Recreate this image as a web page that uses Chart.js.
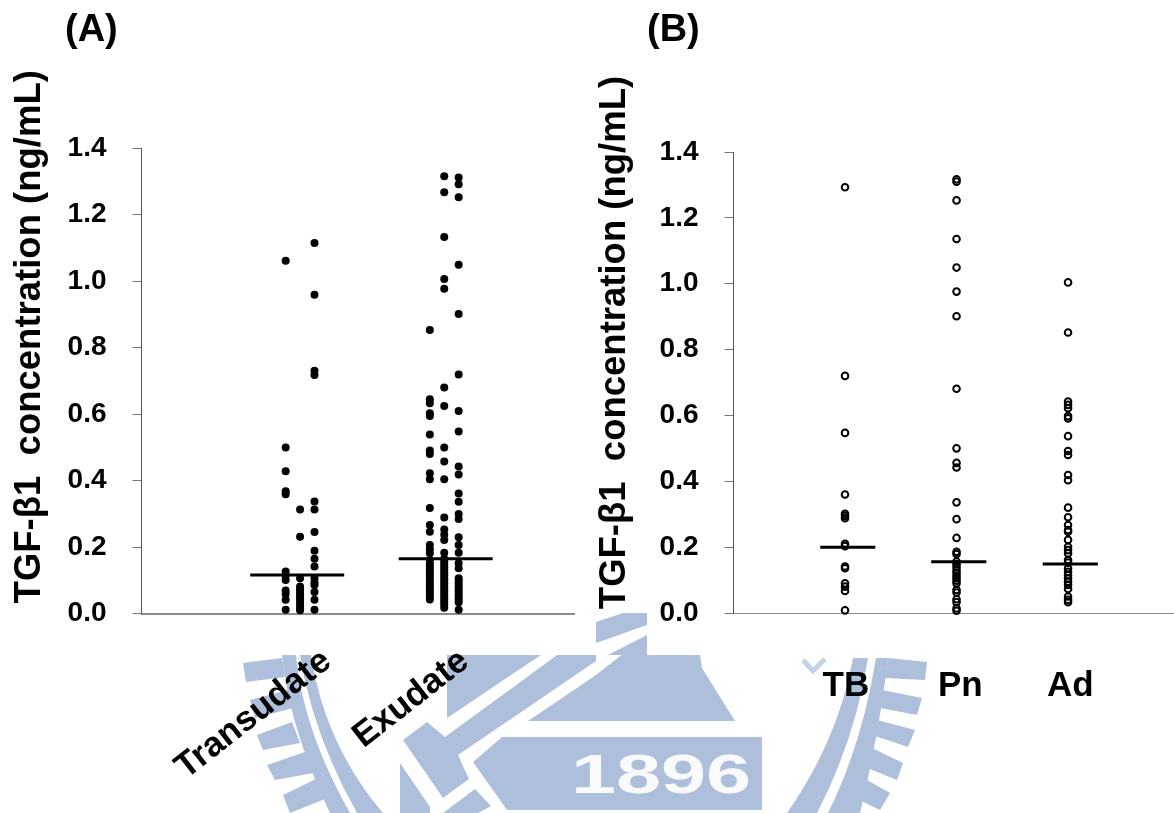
<!DOCTYPE html>
<html>
<head>
<meta charset="utf-8">
<script src="https://cdn.jsdelivr.net/npm/chart.js@4"></script>
<style>
html,body{margin:0;padding:0;background:#fff;width:1174px;height:813px;overflow:hidden}
canvas,svg,.tag{position:absolute}
.tag{font:bold 38px "Liberation Sans",Arial,sans-serif;color:#000;line-height:1}
</style>
</head>
<body>
<svg width="1174" height="813" style="left:0;top:0" fill="#aebfdc" stroke="none">
  <!-- faint seal watermark behind the charts -->
  <polygon points="596,622 623,613 647,613 647,625 596,661"/>
  <polygon points="596,661 647,627 647,655 596,655" fill="#aebfdc"/>
  <polygon points="596,643 647,625 647,635 596,661" fill="#fff"/>
  <polygon points="447,655 541,655 447,718"/>
  <polygon points="403,740 427,722 445,737 557,655 596,655 596,661 458,755 469,779 443,798"/>
  <polygon points="400,763 430,807 430,813 400,813"/>
  <polygon points="443,813 475,789 491,806 478,813"/>
  <polygon points="528,721 596,675 647,635 647,655 700,655 702,668 735,721"/>
  <polygon points="473,762 502,737 762,737 762,810 507,810"/>
  <text x="571" y="793" fill="#fff" font-family="Liberation Sans" font-weight="bold" font-size="56" textLength="180" lengthAdjust="spacingAndGlyphs" opacity="0.93">1896</text>
  <path d="M282,655 L296,655 Q303,730 350,813 L330,813 Q290,730 282,655Z"/>
  <path d="M300,655 L311,655 Q325,745 383,813 L357,813 Q313,735 300,655Z"/>
  <polygon points="243,663 282,658 285,677 246,682"/>
  <polygon points="250,700 288,690 293,708 255,718"/>
  <polygon points="257,735 292,722 300,743 263,750"/>
  <polygon points="267,765 305,752 313,773 275,780"/>
  <polygon points="283,795 318,778 330,797 290,813"/>
  <path d="M853,658 L868,658 Q855,740 817,813 L787,813 Q838,740 853,658Z"/>
  <path d="M876,658 L888,658 Q878,740 860,813 L828,813 Q862,745 876,658Z"/>
  <polygon points="888,658 927,662 925,680 885,678"/>
  <polygon points="882,690 922,698 917,715 880,708"/>
  <polygon points="877,720 915,730 908,747 872,735"/>
  <polygon points="872,748 903,763 897,780 860,765"/>
  <polygon points="858,775 890,793 880,810 845,793"/>
  <path d="M803,660 L813,671 L825,659" fill="none" stroke="#aebfdc" stroke-width="5" opacity=".7"/>
</svg>

<canvas id="chartA" width="590" height="813" style="left:0;top:0"></canvas>
<canvas id="chartB" width="590" height="813" style="left:590px;top:0"></canvas>
<div class="tag" style="left:65px;top:9px">(A)</div>
<div class="tag" style="left:647px;top:9px">(B)</div>

<script>
const yTitle = "TGF-\u03B21  concentration (ng/mL)";
const yTicksMax = 1.4;
const yStep = 0.2;

const categoriesA = ["Transudate", "Exudate"];
const categoryTicksA = [1, 1.955];
const transudateLeft = [1.061,0.499,0.428,0.368,0.359,0.126,0.113,0.101,0.069,0.059,0.041,0.011];
const transudateMid = [0.313,0.231,0.106,0.081,0.073,0.065,0.057,0.049,0.041,0.033,0.025,0.016,0.010];
const transudateRight = [1.114,0.959,0.730,0.717,0.337,0.313,0.245,0.189,0.165,0.141,0.106,0.093,0.086,0.065,0.041,0.011];
const exudateLeft = [0.853,0.644,0.632,0.602,0.594,0.538,0.490,0.480,0.422,0.404,0.317,0.266,0.246,0.206,0.193,0.181,0.160,0.150,0.142,0.134,0.126,0.118,0.110,0.100,0.092,0.084,0.076,0.068,0.058,0.050,0.042];
const exudateMid = [1.315,1.267,1.132,1.006,0.977,0.680,0.624,0.499,0.457,0.404,0.289,0.253,0.237,0.221,0.183,0.165,0.155,0.147,0.139,0.131,0.123,0.115,0.107,0.099,0.091,0.083,0.075,0.067,0.059,0.051,0.043,0.035,0.027,0.017];
const exudateRight = [1.311,1.291,1.252,1.049,0.901,0.719,0.609,0.547,0.442,0.418,0.361,0.336,0.299,0.284,0.229,0.206,0.183,0.151,0.136,0.106,0.098,0.090,0.082,0.074,0.066,0.058,0.050,0.042,0.034,0.011];
const mediansA = [0.116, 0.165];
const medianPosA = [0.98, 2.01];

const categoriesB = ["TB", "Pn", "Ad"];
const categoryTicksB = [0.99, 2.016, 3.003];
const tbValues = [1.293,0.720,0.547,0.360,0.301,0.295,0.288,0.210,0.203,0.141,0.136,0.090,0.080,0.067,0.008];
const pnValues = [1.317,1.310,1.253,1.136,1.049,0.976,0.901,0.681,0.500,0.456,0.442,0.336,0.285,0.228,0.186,0.179,0.156,0.148,0.140,0.130,0.122,0.114,0.106,0.098,0.090,0.070,0.062,0.042,0.033,0.014,0.007];
const adValues = [1.004,0.852,0.642,0.632,0.622,0.598,0.591,0.537,0.492,0.480,0.419,0.403,0.320,0.291,0.267,0.252,0.247,0.222,0.201,0.191,0.181,0.161,0.153,0.136,0.125,0.115,0.105,0.095,0.085,0.073,0.050,0.040,0.033];
const mediansB = [0.200, 0.156, 0.149];
const medianPosB = [1.025, 2.02, 3.02];

const FONT = '"Liberation Sans", Arial, sans-serif';

function column(pos, values) { return values.map(v => ({x: pos, y: v})); }
function medianLine(pos, value, half) {
  return {type:"scatter", showLine:true, data:[{x:pos-half,y:value},{x:pos+half,y:value}],
          borderColor:"#000", borderWidth:3, pointRadius:0, clip:false, order:0};
}

function makeChart(id, cfg) {
  return new Chart(document.getElementById(id), {
    type: "scatter",
    data: {datasets: cfg.datasets},
    options: {
      responsive:false, animation:false,
      layout:{padding:{top:cfg.top,right:cfg.right,bottom:0,left:0}},
      plugins:{legend:{display:false},tooltip:{enabled:false},title:{display:false}},
      scales:{
        x:{
          type:"linear", min:cfg.xMin, max:cfg.xMax,
          grid:{display:false},
          border:{color:"#8c8c8c",width:cfg.xBorder},
          afterBuildTicks:s=>{s.ticks=cfg.tickPositions.map(v=>({value:v}));},
          afterFit:s=>{s.height=813-cfg.bottomY;},
          ticks:{
            autoSkip:false,
            minRotation:cfg.rotation,maxRotation:cfg.rotation,
            labelOffset:cfg.labelOffset,padding:cfg.xPad,
            color:"#000",font:{family:FONT,weight:"bold",size:cfg.catSize},
            callback:(v,i)=>cfg.categories[i]
          }
        },
        y:{
          type:"linear", min:0, max:yTicksMax,
          grid:{display:true,drawOnChartArea:false,drawTicks:true,tickLength:9,tickColor:"#777",tickWidth:1},
          border:{color:"#555",width:1},
          afterBuildTicks:s=>{const t=[];for(let i=0;i<=7;i++)t.push({value:+(i*yStep).toFixed(1)});s.ticks=t;},
          afterFit:s=>{
            s.width=cfg.axisX;
            if(!s._shifted){
              s._shifted=true;
              const orig=s.drawTitle;
              s.drawTitle=function(){const c=this.ctx;c.save();c.translate(0,cfg.titleShift);orig.apply(this,arguments);c.restore();};
            }
          },
          ticks:{
            padding:26,color:"#000",
            font:{family:FONT,weight:"bold",size:28},
            callback:v=>v.toFixed(1)
          },
          title:{display:true,text:yTitle,color:"#000",
                 font:{family:FONT,weight:"bold",size:36.5},padding:{top:cfg.titlePad,bottom:0}}
        }
      }
    }
  });
}

const solid = {pointStyle:"circle",pointRadius:4,pointBackgroundColor:"#000",pointBorderWidth:0,showLine:false,clip:false,order:1};
const hollow = {pointStyle:"circle",pointRadius:3.3,pointBackgroundColor:"rgba(0,0,0,0)",pointBorderColor:"#000",pointBorderWidth:2,showLine:false,clip:false,order:1};

makeChart("chartA",{
  categories:categoriesA,tickPositions:categoryTicksA,top:148,right:16,bottomY:613.5,axisX:141.5,
  xMin:-0.1,xMax:2.9,xBorder:2,rotation:38,labelOffset:27,xPad:19,catSize:35,
  titleShift:-44,titlePad:8,
  datasets:[
    {...solid,data:column(0.9,transudateLeft)},
    {...solid,data:column(1.0,transudateMid)},
    {...solid,data:column(1.1,transudateRight)},
    {...solid,data:column(1.9,exudateLeft)},
    {...solid,data:column(2.0,exudateMid)},
    {...solid,data:column(2.1,exudateRight)},
    medianLine(medianPosA[0],mediansA[0],0.326),
    medianLine(medianPosA[1],mediansA[1],0.326)
  ]
});
makeChart("chartB",{
  categories:categoriesB,tickPositions:categoryTicksB,top:152,right:0,bottomY:613,axisX:143.5,
  xMin:0,xMax:3.95,xBorder:1,rotation:0,labelOffset:2,xPad:44,catSize:35,
  titleShift:-40,titlePad:3.4,
  datasets:[
    {...hollow,data:column(1,tbValues)},
    {...hollow,data:column(2,pnValues)},
    {...hollow,data:column(3,adValues)},
    medianLine(medianPosB[0],mediansB[0],0.247),
    medianLine(medianPosB[1],mediansB[1],0.247),
    medianLine(medianPosB[2],mediansB[2],0.247)
  ]
});
</script>
</body>
</html>
